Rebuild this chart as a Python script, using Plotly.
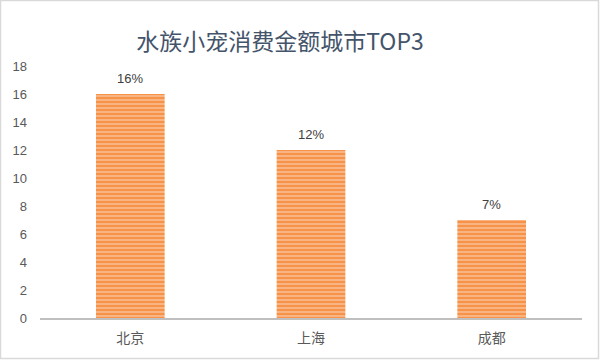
import plotly.graph_objects as go

cities = ["北京", "上海", "成都"]
values = [16, 12, 7]
labels = ["16%", "12%", "7%"]
y_ticks = [0, 2, 4, 6, 8, 10, 12, 14, 16, 18]

fig = go.Figure(go.Bar(
    x=cities, y=values,
    marker=dict(color="#F5893A", line=dict(width=0),
                pattern=dict(shape="-", size=4, solidity=0.6,
                             fgcolor="#FDE0CB", bgcolor="#F5893A", fillmode="overlay")),
    hoverinfo="skip",
))

for c, v, t in zip(cities, values, labels):
    fig.add_annotation(x=c, y=v, text=t, showarrow=False, yanchor="middle", yshift=16,
                       font=dict(size=13, color="#404040", family="Liberation Sans, Noto Sans CJK SC"))

L, R, T, B = 40, 18, 66, 42
W, H = 600, 360
pw, ph = W - L - R, H - T - B

fig.update_layout(
    width=W, height=H,
    margin=dict(l=L, r=R, t=T, b=B),
    paper_bgcolor="white", plot_bgcolor="white",
    bargap=0.62,
    showlegend=False,
    title=dict(text="水族小宠消费金额城市TOP3", x=280 / W, xanchor="center",
               y=1 - 42 / H, yanchor="middle",
               font=dict(size=23, color="#44546A", family="Noto Sans CJK SC")),
    font=dict(family="Liberation Sans, Noto Sans CJK SC", color="#595959", size=12),
    xaxis=dict(showline=True, linecolor="#BFBFBF", linewidth=2, ticks="",
               tickfont=dict(size=14, color="#595959", family="Noto Sans CJK SC"),
               ticklabelstandoff=6, showgrid=False),
    yaxis=dict(range=[0, 18], tickvals=y_ticks, showgrid=False, zeroline=False,
               showline=False, tickfont=dict(size=13, color="#595959"), ticklabelstandoff=12),
    shapes=[dict(type="rect", xref="paper", yref="paper",
                 x0=(-L + 0.5) / pw, x1=(W - L - 1.5) / pw,
                 y0=(-B + 1.5) / ph, y1=(H - B - 0.5) / ph,
                 line=dict(color="#D9D9D9", width=1.5), fillcolor="rgba(0,0,0,0)")],
)

fig.write_html("out.html", config={"displayModeBar": False},
               post_script="document.body.style.margin='0';document.body.style.overflow='hidden';")
